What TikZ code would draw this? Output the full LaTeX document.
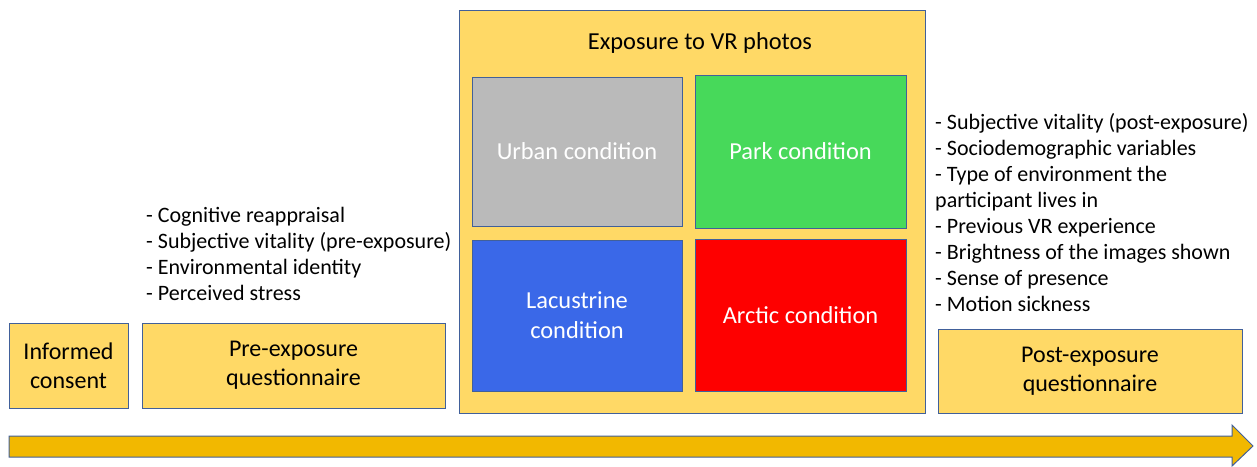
\documentclass[tikz,border=0pt]{standalone}
\usepackage{fontspec}
\setmainfont{Carlito}
\definecolor{boxfill}{HTML}{FFD966}
\definecolor{boxline}{HTML}{41609A}
\definecolor{urbanfill}{HTML}{BABABA}
\definecolor{parkfill}{HTML}{47D95A}
\definecolor{lakefill}{HTML}{3A68E8}
\definecolor{arcticfill}{HTML}{FE0000}
\definecolor{arrowfill}{HTML}{F2B800}
\tikzset{
  stagebox/.style={draw=boxline, line width=1pt, fill=boxfill, align=center, inner sep=0pt,
    font=\fontsize{24}{29}\selectfont},
  condbox/.style={draw=boxline, line width=1pt, align=center, inner sep=0pt, text=white,
    font=\fontsize{24.4}{30}\selectfont},
  listtext/.style={anchor=north west, align=left, inner sep=0pt, font=\fontsize{22}{26}\selectfont}
}
\begin{document}
\begin{tikzpicture}[x=1pt,y=-1pt]
\useasboundingbox (0,0) rectangle (1257,466);
% big exposure box
\node[stagebox, minimum width=466pt, minimum height=403pt] (expo) at (692,211.5) {};
\node[font=\fontsize{24.4}{30}\selectfont, inner sep=0pt] (expotitle) at (700,43) {Exposure to VR photos};
% conditions
\node[condbox, fill=urbanfill, minimum width=210pt, minimum height=149pt] (urban) at (577,151.5) {Urban condition};
\node[condbox, fill=parkfill, minimum width=211pt, minimum height=153pt] (park) at (800.5,151.5) {Park condition};
\node[condbox, fill=lakefill, minimum width=210pt, minimum height=151pt] (lake) at (577,315.5) {Lacustrine\\condition};
\node[condbox, fill=arcticfill, minimum width=211pt, minimum height=152pt] (arctic) at (800.5,315) {Arctic condition};
% stage boxes
\node[stagebox, minimum width=119pt, minimum height=85pt] (consent) at (68.5,365.5) {Informed\\consent};
\node[stagebox, minimum width=303pt, minimum height=85pt] (pre) at (293.5,365.5) {Pre-exposure\\questionnaire};
\node[stagebox, minimum width=304pt, minimum height=84pt] (post) at (1090,371) {Post-exposure\\questionnaire};
% lists
\node[listtext] (prelist) at (146,207) {- Cognitive reappraisal\\- Subjective vitality (pre-exposure)\\- Environmental identity\\- Perceived stress};
\node[listtext] (postlist) at (935,113) {- Subjective vitality (post-exposure)\\- Sociodemographic variables\\- Type of environment the\\participant lives in\\- Previous VR experience\\- Brightness of the images shown\\- Sense of presence\\- Motion sickness};
% timeline arrow
\draw[draw=boxline, line width=1pt, fill=arrowfill] (9,436) -- (1232,436) -- (1232,425) -- (1253,446) -- (1232,466) -- (1232,457) -- (9,457) -- cycle;
\end{tikzpicture}
\end{document}
